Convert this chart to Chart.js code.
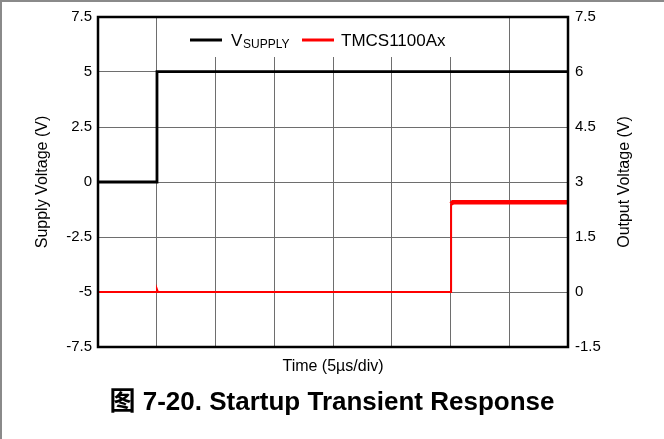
<!DOCTYPE html>
<html>
<head>
<meta charset="utf-8">
<script src="https://cdn.jsdelivr.net/npm/chart.js@4.4.1/dist/chart.umd.min.js"></script>
<style>
  html, body { margin: 0; padding: 0; background: #fff; }
  #wrap { width: 664px; height: 439px; }
</style>
</head>
<body>
<div id="wrap"><canvas id="startupChart" width="664" height="439"></canvas></div>
<script>
// time axis in microseconds (5 us per division, 8 divisions)
const timeTicks = [0, 5, 10, 15, 20, 25, 30, 35, 40];
const supplyTicks = [-7.5, -5, -2.5, 0, 2.5, 5, 7.5];
const outputTicks = [-1.5, 0, 1.5, 3, 4.5, 6, 7.5];

// V_SUPPLY trace (left axis)
const supplyTime = [0, 5.02, 5.02, 40];
const supplyVolt = [0, 0, 5.02, 5.02];

// TMCS1100Ax output trace (right axis)
const outputTime = [0, 4.95, 5.02, 5.1, 30.05, 30.05, 30.2, 40];
const outputVolt = [0, 0, 0.07, 0, 0, 2.4, 2.45, 2.45];

const FONT = '"Liberation Sans", Arial, "Noto Sans CJK SC", sans-serif';

const toPoints = (xs, ys) => xs.map((x, i) => ({ x: x, y: ys[i] }));

const chartDecor = {
    id: 'chartDecor',
    beforeDraw(chart) {
        const ctx = chart.ctx;
        ctx.save();
        ctx.strokeStyle = '#8a8a8a';
        ctx.lineWidth = 2;
        ctx.beginPath();
        ctx.moveTo(1, 439);
        ctx.lineTo(1, 1);
        ctx.lineTo(664, 1);
        ctx.stroke();
        ctx.restore();
    },
    afterDraw(chart) {
        const ctx = chart.ctx;
        const a = chart.chartArea;
        ctx.save();

        // legend box covers the grid
        ctx.fillStyle = '#fff';
        ctx.fillRect(172, a.top + 1, 322, 39);

        // plot frame
        ctx.strokeStyle = '#000';
        ctx.lineWidth = 2.5;
        ctx.strokeRect(a.left, a.top, a.right - a.left, a.bottom - a.top);

        // legend
        ctx.lineWidth = 3;
        ctx.strokeStyle = '#000';
        ctx.beginPath(); ctx.moveTo(190, 40); ctx.lineTo(222, 40); ctx.stroke();
        ctx.strokeStyle = '#ff0000';
        ctx.beginPath(); ctx.moveTo(302, 40); ctx.lineTo(334, 40); ctx.stroke();

        ctx.fillStyle = '#000';
        ctx.textBaseline = 'alphabetic';
        ctx.textAlign = 'left';
        ctx.font = '17px ' + FONT;
        ctx.fillText('V', 231, 46);
        ctx.font = '12px ' + FONT;
        ctx.fillText('SUPPLY', 243, 48);
        ctx.font = '17px ' + FONT;
        ctx.fillText('TMCS1100Ax', 341, 46);

        // right axis title
        ctx.translate(625, (a.top + a.bottom) / 2);
        ctx.rotate(-Math.PI / 2);
        ctx.textAlign = 'center';
        ctx.textBaseline = 'middle';
        ctx.font = '16px ' + FONT;
        ctx.fillText('Output Voltage (V)', 0, 0);
        ctx.restore();
    }
};

const ctx = document.getElementById('startupChart').getContext('2d');
new Chart(ctx, {
    type: 'line',
    data: {
        datasets: [{
            label: 'VSUPPLY',
            data: toPoints(supplyTime, supplyVolt),
            borderColor: '#000',
            borderWidth: 2.8,
            pointRadius: 0,
            yAxisID: 'y'
        }, {
            label: 'TMCS1100Ax',
            data: toPoints(outputTime, outputVolt),
            borderColor: '#ff0000',
            borderWidth: 2,
            pointRadius: 0,
            yAxisID: 'y1',
            segment: {
                borderWidth: s => (s.p0.parsed.y > 2 && s.p1.parsed.y > 2) ? 4.5 : 2
            }
        }]
    },
    options: {
        responsive: false,
        animation: false,
        layout: { padding: { top: 17, left: 0, right: 0, bottom: 0 } },
        plugins: {
            legend: { display: false },
            tooltip: { enabled: false },
            title: {
                display: true,
                position: 'bottom',
                text: '图 7-20. Startup Transient Response',
                color: '#000',
                font: { family: FONT, size: 26, weight: 'bold', lineHeight: 1.2 },
                padding: { top: 0, bottom: 20.4 }
            }
        },
        scales: {
            x: {
                type: 'linear',
                min: 0,
                max: 40,
                afterBuildTicks: s => { s.ticks = timeTicks.map(v => ({ value: v })); },
                afterFit: s => { s.height = 40.4; },
                ticks: { display: false },
                border: { display: false },
                grid: { color: '#6e6e6e', lineWidth: 1, drawTicks: false },
                title: {
                    display: true,
                    text: 'Time (5µs/div)',
                    color: '#000',
                    font: { family: FONT, size: 16, lineHeight: 1.2 },
                    padding: { top: 0, bottom: 10.8 }
                }
            },
            y: {
                position: 'left',
                min: -7.5,
                max: 7.5,
                afterBuildTicks: s => { s.ticks = supplyTicks.map(v => ({ value: v })); },
                afterFit: s => { s.width = 98; },
                border: { display: false },
                grid: { color: '#6e6e6e', lineWidth: 1, drawTicks: false },
                ticks: {
                    color: '#000',
                    padding: 6,
                    font: { family: FONT, size: 15 },
                    callback: v => String(v)
                },
                title: {
                    display: true,
                    text: 'Supply Voltage (V)',
                    color: '#000',
                    font: { family: FONT, size: 16, lineHeight: 1.2 },
                    padding: { top: 33, bottom: 0 }
                }
            },
            y1: {
                position: 'right',
                min: -1.5,
                max: 7.5,
                afterBuildTicks: s => { s.ticks = outputTicks.map(v => ({ value: v })); },
                afterFit: s => { s.width = 96; },
                border: { display: false },
                grid: { display: false, drawTicks: false },
                ticks: {
                    color: '#000',
                    padding: 7,
                    font: { family: FONT, size: 15 },
                    callback: v => String(v)
                }
            }
        }
    },
    plugins: [chartDecor]
});
</script>
</body>
</html>
